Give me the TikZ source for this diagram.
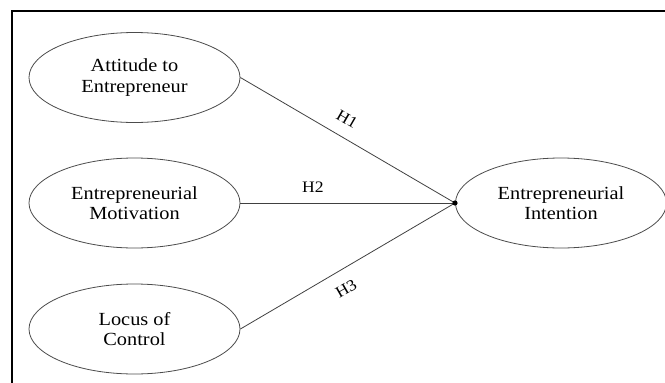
\documentclass[tikz,border=0pt]{standalone}
\usepackage{fontspec}
\setmainfont[FakeStretch=1.1]{Liberation Serif}
\usetikzlibrary{shapes.geometric}
\begin{document}
\begin{tikzpicture}[x=1pt,y=-1pt,
  construct/.style={draw=black!70,line width=0.8pt,ellipse,minimum width=211pt,minimum height=90pt,inner sep=0pt,align=center,font=\fontsize{18.5}{20.5}\selectfont},
  conn/.style={draw=black!75,line width=0.8pt},
  hyp/.style={font=\fontsize{16}{18}\selectfont,inner sep=0pt}]
\useasboundingbox (0,0) rectangle (665,383);
\draw[line width=2pt] (12,400) -- (12,11) -- (670,11);
\node[construct] (att) at (134.5,77.5) {Attitude to\\Entrepreneur};
\node[construct] (mot) at (134.5,203) {Entrepreneurial\\Motivation};
\node[construct] (loc) at (134.5,329) {Locus of\\Control};
\node[construct] (int) at (561,203) {Entrepreneurial\\Intention};
\coordinate (j) at (455,203);
\draw[conn] (att.east) -- (j);
\draw[conn] (mot.east) -- (j);
\draw[conn] (loc.east) -- (j);
\fill (j) circle (2.6pt);
\node[hyp,rotate=-30] (h1) at (347,119) {H1};
\node[hyp] (h2) at (313,187) {H2};
\node[hyp,rotate=30] (h3) at (346,289) {H3};
\end{tikzpicture}
\end{document}
